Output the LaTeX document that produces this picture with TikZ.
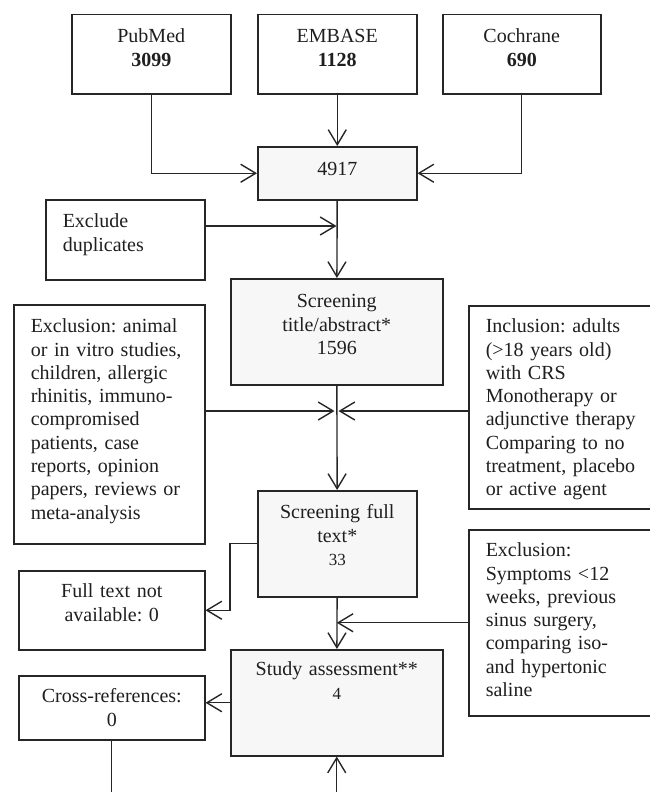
\documentclass[tikz,border=0pt]{standalone}
\usepackage{fontspec}
\setmainfont{Liberation Serif}
\frenchspacing
\usetikzlibrary{arrows.meta,calc,positioning}
\tikzset{
  node-src/.style={draw=black!85,line width=1.5pt,fill=white,anchor=north west,inner ysep=0pt,inner xsep=5pt,align=center,text=black!88,font=\fontsize{20}{23.3}\selectfont},
  node-stage/.style={node-src,fill=black!3},
  node-side/.style={node-src},
  node-note/.style={node-src,align=left,inner xsep=17pt},
  impl/.style={-{Straight Barb[length=15pt,width=18pt]},line width=1.4pt,black!85},
}

\begin{document}
\begin{tikzpicture}[x=1pt,y=-1pt]

  \useasboundingbox (0,0) rectangle (650,792);
  \clip (0,0) rectangle (650,792);

  % SOURCES
  \node[node-src,text width=149pt,text height=28pt,text depth=51pt] (pubmed)   at (71,14)  {PubMed\\\textbf{3099}};
  \node[node-src,text width=149pt,text height=28pt,text depth=51pt] (embase)   at (257,14) {EMBASE\\\textbf{1128}};
  \node[node-src,text width=148pt,text height=28pt,text depth=51pt] (cochrane) at (442,14) {Cochrane\\\textbf{690}};

  % MAIN COLUMN
  \node[node-stage,text width=149pt,text height=29pt,text depth=24pt] (total) at (257,146) {4917};
  \node[node-stage,text width=202pt,text height=29pt,text depth=77pt] (title) at (230,278) {Screening\\title/abstract*\\1596};
  \node[node-stage,text width=149pt,text height=28pt,text depth=78pt] (full)  at (257,490) {Screening full\\text*\\{\fontsize{17}{23.3}\selectfont 33}};
  \node[node-stage,text width=202pt,text height=26pt,text depth=80pt] (study) at (230,649) {Study assessment**\\{\fontsize{17}{23.3}\selectfont 4}};

  % SIDE BOXES
  \node[node-note,text width=125pt,text height=28pt,text depth=52pt]  (dup)    at (45,199)  {Exclude\\duplicates};
  \node[node-note,text width=157pt,text height=28pt,text depth=211pt] (excl-a) at (13,304)  {Exclusion: animal\\or in vitro studies,\\children, allergic\\rhinitis, immuno-\\compromised\\patients, case\\reports, opinion\\papers, reviews or\\meta-analysis};
  \node[node-note,text width=178pt,text height=27pt,text depth=176pt] (incl)   at (468,305) {Inclusion: adults\\(>18 years old)\\with CRS\\Monotherapy or\\adjunctive therapy\\Comparing to no\\treatment, placebo\\or active agent};
  \node[node-side,text width=176pt,text height=27pt,text depth=52pt]  (na)     at (18,570)  {Full text not\\available: 0};
  \node[node-note,text width=178pt,text height=27pt,text depth=159pt] (excl-b) at (468,529) {Exclusion:\\Symptoms <12\\weeks, previous\\sinus surgery,\\comparing iso-\\and hypertonic\\saline};
  \node[node-side,text width=176pt,text height=27pt,text depth=37pt]  (xref)   at (18,675)  {Cross-references:\\0};

  \coordinate (j1) at (336.5,226);
  \coordinate (j2) at (336.5,411);

  \draw[impl] (pubmed.south) |- (total.west);
  \draw[impl] (embase) -- (total);
  \draw[impl] (cochrane.south) |- (total.east);
  \draw[impl] (total) -- (title);
  \draw[impl] (dup.east |- j1) -- (j1);
  \draw[impl] (title) -- (full);
  \draw[impl] (excl-a.east |- j2) -- ([xshift=-2pt]j2);
  \draw[impl] (incl.west |- j2) -- ([xshift=2pt]j2);
  \draw[impl] (full.west) -- ++(-27,0) |- (na.east);
  \draw[impl] (full) -- (study);
  \draw[impl] (excl-b.west) -- (excl-b.west -| study.north);
  \draw[impl] (study.west) -- (study.west -| xref.east);
  \draw[impl] (xref.south) -- ++(0,80) -| (study.south);

\end{tikzpicture}
\end{document}
